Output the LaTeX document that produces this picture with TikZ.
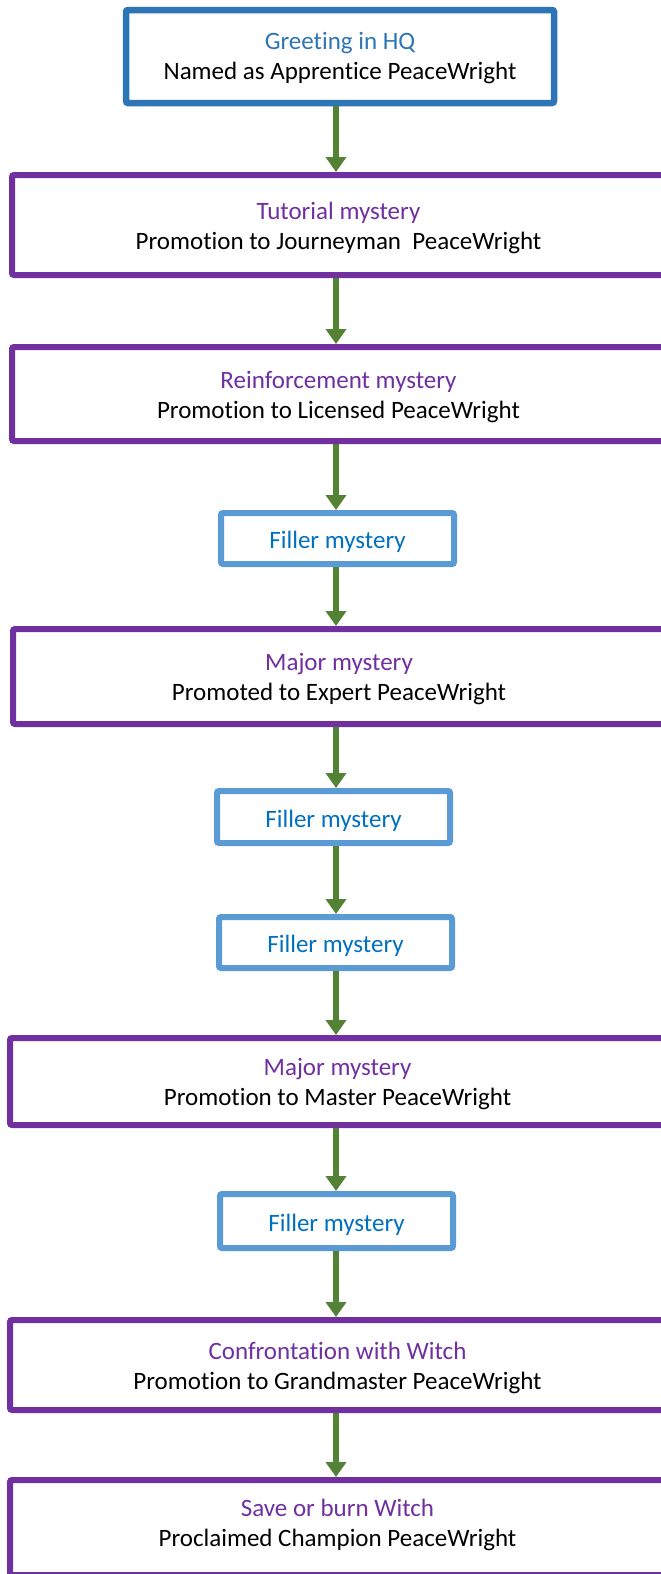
\documentclass[tikz,border=0pt]{standalone}
\usepackage{fontspec}
\setmainfont[Ligatures=NoCommon]{Carlito}
\usetikzlibrary{arrows.meta}
\definecolor{topblue}{HTML}{2E75B6}
\definecolor{fillblue}{HTML}{5B9BD5}
\definecolor{filltext}{HTML}{0070C0}
\definecolor{purp}{HTML}{7030A0}
\definecolor{arrgreen}{HTML}{548235}
\tikzset{
  bigbox/.style={draw=purp, line width=6pt, rounded corners=2pt, fill=white, align=center, inner sep=0pt,
    font=\fontsize{25}{30}\selectfont},
  topbox/.style={draw=topblue, line width=6.5pt, rounded corners=2pt, fill=white, align=center, inner sep=0pt,
    font=\fontsize{25}{30}\selectfont},
  fillerbox/.style={draw=fillblue, line width=6pt, rounded corners=2pt, fill=white, align=center, inner sep=0pt,
    minimum width=233pt, text=filltext, font=\fontsize{25}{30}\selectfont},
  flow/.style={draw=arrgreen, line width=6pt, -{Triangle[length=15pt,width=20pt]}},
}
\newcommand{\tI}{t\kern0pt i}
\newcommand{\ttl}[1]{\textcolor{purp}{\rule{0pt}{24pt}#1}}
\newcommand{\lowl}[1]{#1\rule[-6pt]{0pt}{6pt}}
\newcommand{\fil}{\rule{0pt}{25pt}Filler mystery\rule[-5pt]{0pt}{5pt}}
\begin{document}
\begin{tikzpicture}[x=1pt,y=-1pt]
\useasboundingbox (0,0) rectangle (661,1574);
\clip (0,0) rectangle (661,1574);
\fill[white] (0,0) rectangle (661,1574);
\coordinate (col) at (336,0);
\node[topbox, minimum width=428pt, minimum height=93pt] (n1) at (340,56.5)
  {\textcolor{topblue}{\rule{0pt}{22pt}Gree\tI ng in HQ}\\\lowl{Named as Appren\tI ce PeaceWright}};
\node[bigbox, minimum width=653pt, minimum height=100pt] (n2) at (338.5,225)
  {\ttl{Tutorial mystery}\\\lowl{Promo\tI on to Journeyman\ \ PeaceWright}};
\node[bigbox, minimum width=653pt, minimum height=94pt] (n3) at (338.5,394)
  {\ttl{Reinforcement mystery}\\\lowl{Promo\tI on to Licensed PeaceWright}};
\node[fillerbox, minimum height=51pt] (f1) at (337.5,538.5) {\fil};
\node[bigbox, minimum width=652pt, minimum height=95pt] (n4) at (339,676.5)
  {\ttl{Major mystery}\\\lowl{Promoted to Expert PeaceWright}};
\node[fillerbox, minimum height=52pt] (f2) at (333.5,817) {\fil};
\node[fillerbox, minimum height=51pt] (f3) at (335.5,942.5) {\fil};
\node[bigbox, minimum width=655pt, minimum height=87pt] (n5) at (337.5,1081.5)
  {\ttl{Major mystery}\\\lowl{Promo\tI on to Master PeaceWright}};
\node[fillerbox, minimum height=54pt] (f4) at (336.5,1221) {\fil};
\node[bigbox, minimum width=655pt, minimum height=90pt] (n6) at (337.5,1365)
  {\ttl{Confronta\tI on with Witch}\\\lowl{Promo\tI on to Grandmaster PeaceWright}};
\node[bigbox, minimum width=655pt, minimum height=95pt] (n7) at (337.5,1527.5)
  {\ttl{Save or burn Witch}\\Proclaimed Champion PeaceWright\rule[-17pt]{0pt}{17pt}};
\foreach \a/\b in {n1/n2,n2/n3,n3/f1,f1/n4,n4/f2,f2/f3,f3/n5,n5/f4,f4/n6,n6/n7}
  \draw[flow] (\a.south -| col) -- (\b.north -| col);
\end{tikzpicture}
\end{document}
